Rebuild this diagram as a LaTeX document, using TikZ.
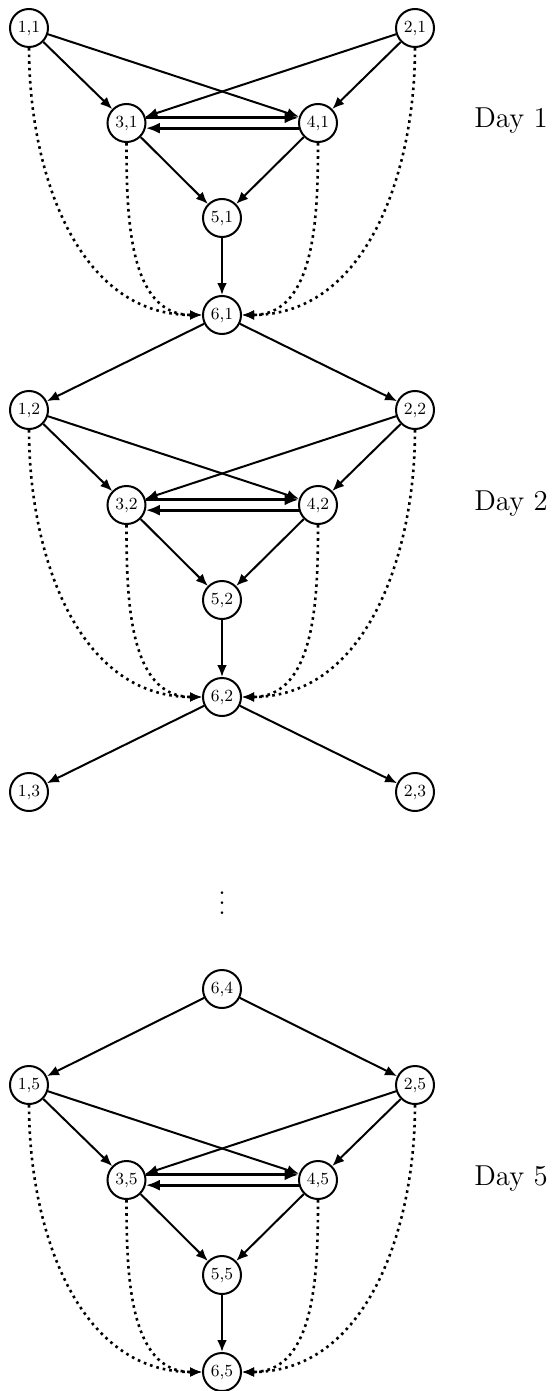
\documentclass[tikz,border=0pt]{standalone}
\usetikzlibrary{arrows.meta}

\tikzset{
  st/.style={circle, draw, line width=1pt, minimum size=19pt, inner sep=0pt,
             font=\fontsize{8.5}{10}\selectfont},
  arc/.style={line width=1pt, -{Latex[length=6pt,width=5pt]}},
  swap/.style={line width=1.5pt, -{Latex[length=7pt,width=5.5pt]}},
  flow/.style={line width=1.3pt, -{Latex[length=6pt,width=5pt]}},
  lag/.style={line width=1.3pt, dotted, -{Latex[length=6pt,width=5pt]}},
  daylabel/.style={font=\Large, anchor=base},
}

% one day of the network: #1 = day index, #2 = y of the top row
\newcommand{\drawday}[2]{%
  \node[st] (n1#1) at (29,#2)          {1,#1};
  \node[st] (n2#1) at (415,#2)         {2,#1};
  \node[st] (n3#1) at (126.5,#2+95)    {3,#1};
  \node[st] (n4#1) at (318,#2+95)      {4,#1};
  \node[st] (n5#1) at (222,#2+190)     {5,#1};
  \node[st] (n6#1) at (222,#2+287)     {6,#1};
  \node[daylabel] (d#1) at (511,#2+100) {Day #1};
  \draw[arc] (n1#1) -- (n3#1);
  \draw[arc] (n1#1) -- (n4#1);
  \draw[arc] (n2#1) -- (n3#1);
  \draw[arc] (n2#1) -- (n4#1);
  \draw[swap] (n3#1.15) -- (n4#1.165);
  \draw[swap] (n4#1.195) -- (n3#1.345);
  \draw[arc] (n3#1) -- (n5#1);
  \draw[arc] (n4#1) -- (n5#1);
  \draw[flow] (n5#1) -- (n6#1);
  \draw[lag] (n1#1.south) to[out=-90, in=180] (n6#1.west);
  \draw[lag] (n3#1.south) to[out=-90, in=180] (n6#1.west);
  \draw[lag] (n2#1.south) to[out=-90, in=0] (n6#1.east);
  \draw[lag] (n4#1.south) to[out=-90, in=0] (n6#1.east);
}

\begin{document}
\begin{tikzpicture}[x=0.5pt, y=-0.5pt]
  \useasboundingbox (0,0) rectangle (554,1391);

  \drawday{1}{28}
  \drawday{2}{410}
  \drawday{5}{1085}

  % links between consecutive days
  \draw[arc] (n61) -- (n12);
  \draw[arc] (n61) -- (n22);

  \node[st] (n13) at (29,792)  {1,3};
  \node[st] (n23) at (415,792) {2,3};
  \draw[arc] (n62) -- (n13);
  \draw[arc] (n62) -- (n23);

  \node (gap) at (222,896) {\scalebox{1.25}{$\vdots$}};

  \node[st] (n64) at (222,989) {6,4};
  \draw[arc] (n64) -- (n15);
  \draw[arc] (n64) -- (n25);
\end{tikzpicture}
\end{document}
